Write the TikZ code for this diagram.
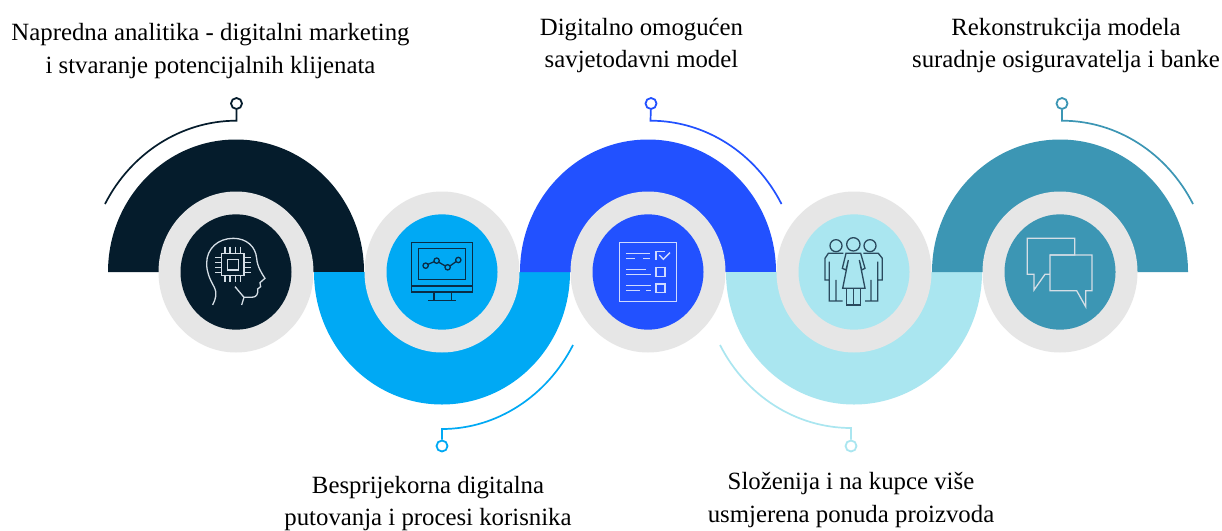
\documentclass[tikz,border=0pt]{standalone}
\usepackage{fontspec}
\setmainfont{Liberation Serif}
\definecolor{cnavy}{HTML}{051C2C}
\definecolor{ccyan}{HTML}{00A9F4}
\definecolor{cblue}{HTML}{2251FF}
\definecolor{cpale}{HTML}{AAE6F0}
\definecolor{cteal}{HTML}{3C96B4}
\definecolor{cgrey}{HTML}{E6E6E6}
\definecolor{ciconl}{HTML}{D5DEE6}
\definecolor{ciconb}{HTML}{CFDAFF}
\definecolor{ciconn}{HTML}{0A2C45}
\definecolor{ciconp}{HTML}{2A4A5E}
\tikzset{
  lbl/.style={align=center,inner sep=0pt,font=\fontsize{24.8}{32.5}\selectfont,text=black},
  pin/.style={circle,draw=#1,line width=1.8pt,fill=white,minimum size=11pt,inner sep=0pt},
  lead/.style={draw=#1,line width=1.7pt},
  ico/.style={draw=#1,line width=1.3pt,fill=none,line join=miter},
}
\newcommand{\halfup}[2]{\fill[#2] (#1-128,272) arc[start angle=180,end angle=360,x radius=128,y radius=132.5] -- cycle;}
\newcommand{\halfdn}[2]{\fill[#2] (#1-128,272) arc[start angle=180,end angle=0,x radius=128,y radius=132.5] -- cycle;}
\newcommand{\disc}[2]{\fill[cgrey] (#1,272) ellipse[x radius=77.5,y radius=80.5];\fill[#2] (#1,272) ellipse[x radius=55.5,y radius=57.7];}
\begin{document}
\begin{tikzpicture}[x=1pt,y=-1pt]
\useasboundingbox (0,0) rectangle (1222,530);
\fill[white] (0,0) rectangle (1222,530);
% bands
\halfup{236}{cnavy}
\halfdn{442}{ccyan}
\halfup{648}{cblue}
\halfdn{854}{cpale}
\halfup{1060}{cteal}
% discs
\disc{236}{cnavy}
\disc{442}{ccyan}
\disc{648}{cblue}
\disc{854}{cpale}
\disc{1060}{cteal}
% labels
\node[lbl] (t1) at (210.5,51) {Napredna analitika - digitalni marketing\\i stvaranje potencijalnih klijenata};
\node[lbl] (t2) at (428,503.5) {Besprijekorna digitalna\\putovanja i procesi korisnika};
\node[lbl] (t3) at (641.5,45.5) {Digitalno omogućen\\savjetodavni model};
\node[lbl] (t4) at (851,500) {Složenija i na kupce više\\usmjerena ponuda proizvoda};
\node[lbl] (t5) at (1066,45.5) {Rekonstrukcija modela\\suradnje osiguravatelja i banke};
% leaders
\node[pin=cnavy] (p1) at (236.5,103.5) {};
\coordinate (k1) at (236.5,120.7);
\coordinate (e1) at (105,204);
\draw[lead=cnavy] (p1) -- (k1) .. controls (181.5,120.7) and (131,153) .. (e1);
\node[pin=ccyan] (p2) at (442,446) {};
\coordinate (k2) at (442,429);
\coordinate (e2) at (573,345);
\draw[lead=ccyan] (p2) -- (k2) .. controls (497,429) and (547,396) .. (e2);
\node[pin=cblue] (p3) at (651,103.5) {};
\coordinate (k3) at (650.5,120.7);
\coordinate (e3) at (781.5,204);
\draw[lead=cblue] (p3) -- (k3) .. controls (705.5,120.7) and (755.5,153) .. (e3);
\node[pin=cpale] (p4) at (851,446) {};
\coordinate (k4) at (851,428);
\coordinate (e4) at (720,345);
\draw[lead=cpale] (p4) -- (k4) .. controls (796,428) and (746,396) .. (e4);
\node[pin=cteal] (p5) at (1062,103.5) {};
\coordinate (k5) at (1062,120.7);
\coordinate (e5) at (1193,204);
\draw[lead=cteal] (p5) -- (k5) .. controls (1117,120.7) and (1167,153) .. (e5);
% head icon
\begin{scope}[shift={(90,90)},x=0.3333pt,y=-0.3333pt]
\draw[ico=ciconl] (368,645) .. controls (378,625) and (382,610) .. (372,590) .. controls (358,565) and (350,545) .. (350,520) .. controls (350,475) and (385,445) .. (430,445) .. controls (470,445) and (497,470) .. (500,505) .. controls (502,530) and (515,550) .. (525,565) -- (510,578) -- (512,590) -- (503,597) .. controls (505,612) and (500,622) .. (485,622) -- (462,622) -- (455,645);
\draw[ico=ciconl] (435,590) -- (462,622);
\draw[ico=ciconl] (395,490) rectangle (462,556);
\draw[ico=ciconl] (413,508) rectangle (445,540);
\foreach \v in {405,420,437,452}{\draw[ico=ciconl] (\v,470) -- (\v,490) (\v,556) -- (\v,576);}
\foreach \v in {503,518,533,548}{\draw[ico=ciconl] (375,\v) -- (395,\v) (462,\v) -- (482,\v);}
% monitor icon
\draw[ico=ciconn] (965,458) rectangle (1147,606);
\draw[ico=ciconn] (985,476) rectangle (1127,568);
\draw[ico=ciconn] (965,588) -- (1147,588);
\draw[ico=ciconn] (1032,606) -- (1032,632) (1084,606) -- (1084,632) (1014,632) -- (1098,632);
\draw[ico=ciconn] (1014,523) -- (1033,515) (1047,517) -- (1066,528) (1080,528) -- (1098,515);
\foreach \a/\b in {1007/527,1040/512,1073/532,1105/510}{\draw[ico=ciconn] (\a,\b) circle[radius=8];}
\end{scope}
% checklist icon
\begin{scope}[shift={(500,90)},x=0.3333pt,y=-0.3333pt]
\draw[ico=ciconb] (358,458) rectangle (530,634);
\draw[ico=ciconb] (378,490) -- (450,490) (378,505) -- (405,505) (430,505) -- (450,505);
\draw[ico=ciconb] (378,538) -- (438,538) (378,553) -- (452,553);
\draw[ico=ciconb] (378,587) -- (452,587) (378,602) -- (420,602) (438,602) -- (452,602);
\draw[ico=ciconb] (495,485) -- (468,485) -- (468,510);
\draw[ico=ciconb] (478,495) -- (490,508) -- (510,488);
\draw[ico=ciconb] (468,533) rectangle (495,560);
\draw[ico=ciconb] (468,582) rectangle (495,608);
\end{scope}
% people icon
\begin{scope}[shift={(810,225)},x=0.3333pt,y=-0.3333pt]
\draw[ico=ciconp] (78,62) circle[radius=18];
\draw[ico=ciconp] (130,58) circle[radius=20];
\draw[ico=ciconp] (180,62) circle[radius=18];
\draw[ico=ciconp] (108,85) -- (152,85) -- (165,130) -- (155,135) -- (148,105) -- (165,190) -- (98,190) -- (115,105) -- (108,135) -- (97,130) -- cycle;
\draw[ico=ciconp] (110,190) -- (110,240) -- (152,240) -- (152,190) (130,190) -- (130,240);
\draw[ico=ciconp] (100,85) -- (55,85) -- (45,100) -- (45,165) -- (58,165) -- (58,110) (58,165) -- (58,228) -- (98,228) (78,165) -- (78,228);
\draw[ico=ciconp] (160,85) -- (205,85) -- (217,100) -- (217,165) -- (203,165) -- (203,110) (203,165) -- (203,228) -- (165,228) (183,165) -- (183,228);
\end{scope}
% speech icon
\begin{scope}[shift={(880,90)},x=0.3333pt,y=-0.3333pt]
\draw[ico=ciconl] (510,495) -- (584,495) -- (584,445) -- (442,445) -- (442,553) -- (462,553) -- (462,600) -- (495,553) -- (510,553);
\draw[ico=ciconl] (510,495) -- (636,495) -- (636,602) -- (617,602) -- (617,650) -- (590,602) -- (510,602) -- cycle;
\end{scope}
\end{tikzpicture}
\end{document}
